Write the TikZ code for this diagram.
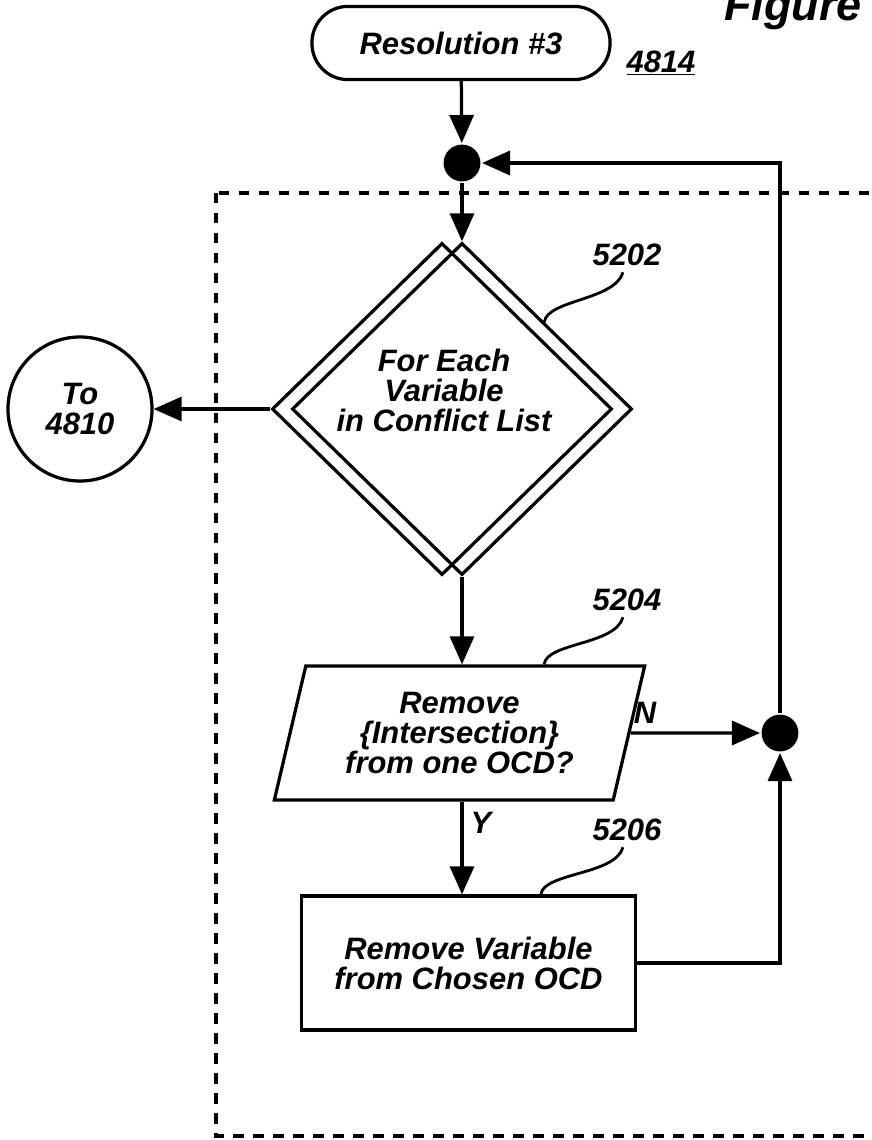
\documentclass[tikz,border=0pt]{standalone}
\usepackage{fontspec}
\setmainfont{Liberation Sans}
\usetikzlibrary{arrows.meta, positioning, shapes.geometric, calc}

\begin{document}
\begin{tikzpicture}[x=0.025cm, y=-0.025cm, >={Triangle[length=0.7cm, width=0.6cm]},
  font=\fontsize{22}{21.3}\selectfont\bfseries\itshape, line width=2.3pt,
  terminal/.style={draw, rectangle, rounded corners=0.9cm, minimum width=7.45cm, minimum height=1.83cm},
  junction/.style={circle, fill, inner sep=0pt, minimum size=0.92cm},
  loopdiamond/.style={draw, diamond, inner sep=0pt, minimum width=8.5cm, minimum height=8.3cm},
  offpage/.style={draw, circle, inner sep=0pt, minimum size=3.6cm, align=center},
  decision/.style={draw, trapezium, trapezium left angle=75, trapezium right angle=105,
    trapezium stretches=true, minimum width=9.27cm, minimum height=3.35cm, align=center},
  process/.style={draw, rectangle, minimum width=8.33cm, minimum height=3.35cm, align=center},
  leader/.style={line width=2pt},
  dashbox/.style={line width=2.3pt, dash pattern=on 0.26cm off 0.24cm}]
  \useasboundingbox (0,0) rectangle (872,1140);

  % Figure title (cut off at the page edge)
  \node[anchor=base west, font=\fontsize{32}{32}\selectfont\bfseries\itshape] (figtitle) at (718,20) {Figure};

  % Dashed loop boundary
  \draw[dashbox] (216,193) rectangle (910,1136);

  % Start of the resolution
  \node[terminal] (start) at (461,43) {Resolution \#3};
  \node (ref4814) at (661,63) {\underline{4814}};
  \node[junction] (dot1) at (462,163) {};

  % Loop over the conflict list
  \node[loopdiamond] (dA) at (442,409) {};
  \node[loopdiamond] (dB) at (462,409) {};
  \node[align=center] (looptext) at (444,390) {For Each\\Variable\\in Conflict List};
  \node[offpage] (to4810) at (80,409) {To\\4810};

  % Test and removal
  \node[decision] (ask) at (459.5,733) {Remove\\\{Intersection\}\\from one OCD?};
  \node[process] (act) at (468.5,963) {Remove Variable\\from Chosen OCD};
  \node[junction] (dot2) at (780,733) {};

  % Reference numerals and branch labels
  \node (n5202) at (627,255) {5202};
  \node (n5204) at (627,600) {5204};
  \node (n5206) at (627,830) {5206};
  \node (lblN) at (645,713) {N};
  \node (lblY) at (481,823) {Y};

  % Flow lines
  \draw[->] (start) -- (dot1);
  \draw[->] (dot1) -- (dB.north);
  \draw[->] (dA.west) -- (to4810);
  \draw[->] (dB.south) -- (dB.south |- ask.north);
  \draw[->] (dB.south |- ask.south) -- (dB.south |- act.north);
  \draw[->] (ask.east) -- (dot2);
  \draw[->] (act.east) -| (dot2.south);
  \draw[->] (dot2.north) |- (dot1.east);

  % Leaders
  \draw[leader] ($(n5202.south)+(-4,0)$) .. controls +(-8,28) and +(3,-22) .. ($(dB.north)!0.48!(dB.east)$);
  \draw[leader] ($(n5204.south)+(-4,0)$) .. controls +(-8,28) and +(3,-22) .. ($(ask.top left corner)!0.7!(ask.top right corner)$);
  \draw[leader] ($(n5206.south)+(-4,0)$) .. controls +(-8,28) and +(3,-22) .. ($(act.north west)!0.715!(act.north east)$);
\end{tikzpicture}
\end{document}
